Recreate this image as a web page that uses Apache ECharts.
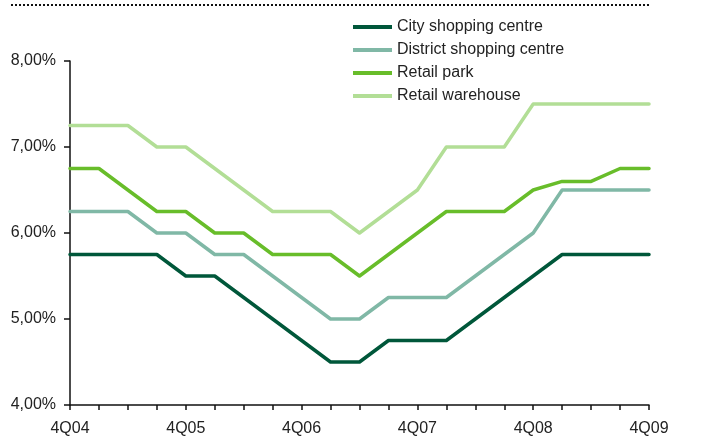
<!DOCTYPE html>
<html>
<head>
<meta charset="utf-8">
<script src="https://cdn.jsdelivr.net/npm/echarts@6/dist/echarts.min.js"></script>
<style>
  html, body { margin: 0; padding: 0; background: #ffffff; }
  #chart { width: 716px; height: 443px; }
</style>
</head>
<body>
<div id="chart"></div>
<script>
// Quarters, 4Q04 .. 4Q09
const quarters = [
  '4Q04', '1Q05', '2Q05', '3Q05', '4Q05', '1Q06', '2Q06', '3Q06', '4Q06',
  '1Q07', '2Q07', '3Q07', '4Q07', '1Q08', '2Q08', '3Q08', '4Q08',
  '1Q09', '2Q09', '3Q09', '4Q09'
];

// Prime yields (%)
const cityShopping = [5.75, 5.75, 5.75, 5.75, 5.5, 5.5, 5.25, 5.0, 4.75, 4.5, 4.5,
  4.75, 4.75, 4.75, 5.0, 5.25, 5.5, 5.75, 5.75, 5.75, 5.75];
const districtShopping = [6.25, 6.25, 6.25, 6.0, 6.0, 5.75, 5.75, 5.5, 5.25, 5.0, 5.0,
  5.25, 5.25, 5.25, 5.5, 5.75, 6.0, 6.5, 6.5, 6.5, 6.5];
const retailPark = [6.75, 6.75, 6.5, 6.25, 6.25, 6.0, 6.0, 5.75, 5.75, 5.75, 5.5,
  5.75, 6.0, 6.25, 6.25, 6.25, 6.5, 6.6, 6.6, 6.75, 6.75];
const retailWarehouse = [7.25, 7.25, 7.25, 7.0, 7.0, 6.75, 6.5, 6.25, 6.25, 6.25, 6.0,
  6.25, 6.5, 7.0, 7.0, 7.0, 7.5, 7.5, 7.5, 7.5, 7.5];

const seriesNames = ['City shopping centre', 'District shopping centre', 'Retail park', 'Retail warehouse'];
const seriesColors = ['#00573a', '#80b8a6', '#68bd2a', '#b2de96'];
const seriesData = [cityShopping, districtShopping, retailPark, retailWarehouse];

const yTicks = [4, 5, 6, 7, 8];

const FONT = '"Liberation Sans", Arial, sans-serif';
const TEXT = '#222222';

const chart = echarts.init(document.getElementById('chart'), null, { renderer: 'canvas' });

chart.setOption({
  animation: false,
  textStyle: { fontFamily: FONT },
  grid: { left: 70, right: 67, top: 61, bottom: 38, containLabel: false },
  graphic: [{
    type: 'line',
    shape: { x1: 11, y1: 5, x2: 650, y2: 5 },
    style: { stroke: '#111111', lineWidth: 2, lineDash: [2, 2] }
  }],
  legend: {
    orient: 'vertical',
    left: 353,
    top: 19,
    padding: 0,
    itemWidth: 39,
    itemHeight: 4,
    itemGap: 7,
    icon: 'rect',
    textStyle: { fontFamily: FONT, fontSize: 16, color: TEXT, lineHeight: 14 },
    data: seriesNames
  },
  xAxis: {
    type: 'category',
    data: quarters,
    boundaryGap: false,
    axisLine: { lineStyle: { color: '#111111', width: 1.5 } },
    axisTick: { show: true, interval: 0, length: 5, lineStyle: { color: '#111111', width: 1.5 } },
    axisLabel: { interval: 3, margin: 16, fontSize: 16, color: TEXT, fontFamily: FONT },
    splitLine: { show: false }
  },
  yAxis: {
    type: 'value',
    min: yTicks[0],
    max: yTicks[yTicks.length - 1],
    interval: 1,
    axisLine: { show: true, lineStyle: { color: '#111111', width: 1.5 } },
    axisTick: { show: true, length: 6, lineStyle: { color: '#111111', width: 1.5 } },
    axisLabel: {
      margin: 14,
      fontSize: 16,
      color: TEXT,
      fontFamily: FONT,
      formatter: v => v.toFixed(2).replace('.', ',') + '%'
    },
    splitLine: { show: false }
  },
  series: seriesNames.map((name, i) => ({
    name: name,
    type: 'line',
    data: seriesData[i],
    symbol: 'none',
    z: 2 + i,
    color: seriesColors[i],
    lineStyle: { color: seriesColors[i], width: 3.5, cap: 'round', join: 'round' }
  }))
});
</script>
</body>
</html>
